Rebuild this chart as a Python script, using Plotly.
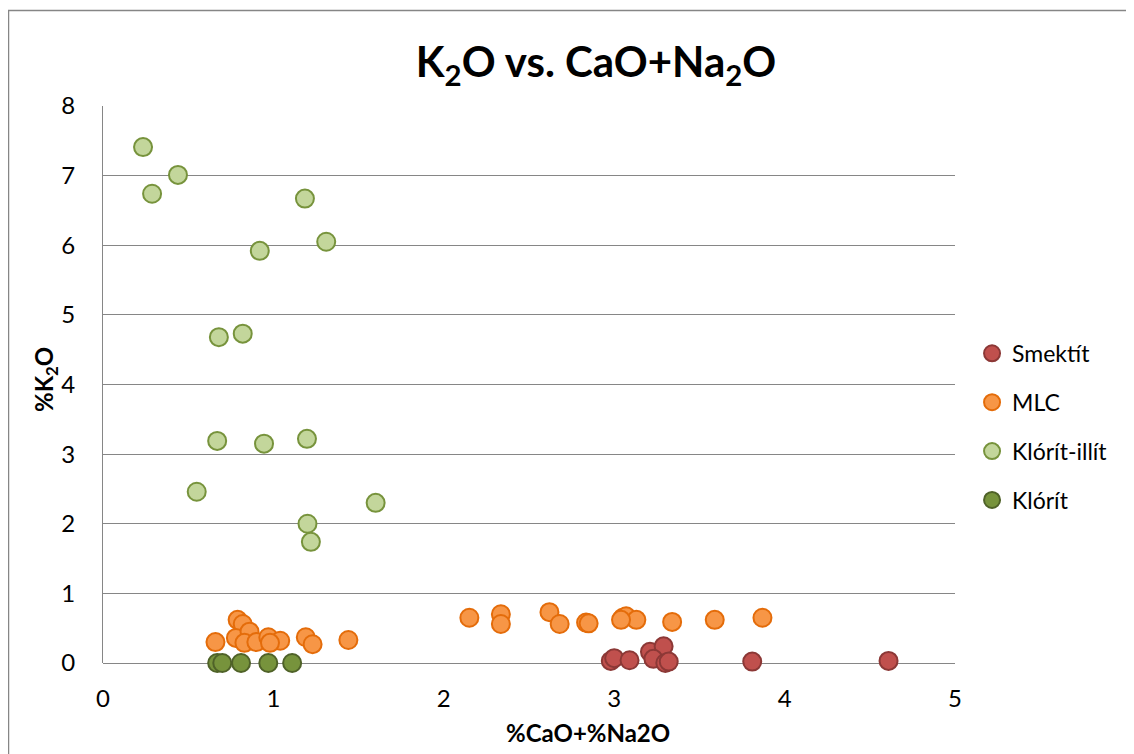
import plotly.graph_objects as go

# Smektít
smek_x = [2.98, 3.00, 3.09, 3.21, 3.29, 3.23, 3.30, 3.32, 3.81, 4.61]
smek_y = [0.03, 0.07, 0.04, 0.16, 0.24, 0.06, 0.00, 0.02, 0.02, 0.03]

# MLC
mlc_x = [0.66, 0.79, 0.82, 0.78, 0.86, 0.83, 0.90, 0.97, 1.04, 0.98, 1.19, 1.23, 1.44,
         2.15, 2.335, 2.335, 2.62, 2.68, 2.835, 2.85, 3.05, 3.07, 3.13, 3.04, 3.34, 3.59, 3.87]
mlc_y = [0.30, 0.62, 0.56, 0.36, 0.45, 0.29, 0.30, 0.37, 0.32, 0.29, 0.37, 0.27, 0.33,
         0.65, 0.70, 0.56, 0.73, 0.56, 0.58, 0.57, 0.65, 0.67, 0.62, 0.62, 0.59, 0.62, 0.65]

# Klórít-illít
ki_x = [0.235, 0.288, 0.44, 1.185, 1.31, 0.92, 0.68, 0.82, 0.67, 0.945, 1.197, 0.55, 1.60, 1.20, 1.22]
ki_y = [7.41, 6.74, 7.01, 6.67, 6.05, 5.92, 4.68, 4.73, 3.19, 3.15, 3.22, 2.46, 2.30, 2.00, 1.74]

# Klórít
kl_x = [0.67, 0.70, 0.81, 0.97, 1.11]
kl_y = [0.0, 0.0, 0.0, 0.0, 0.0]

series = [
    ("Smektít", smek_x, smek_y, "#C0504D", "#8C3836"),
    ("MLC", mlc_x, mlc_y, "#F79646", "#E46C0A"),
    ("Klórít-illít", ki_x, ki_y, "#C3D69B", "#77933C"),
    ("Klórít", kl_x, kl_y, "#77933C", "#4F6228"),
]

FONT = "Lato, Noto Sans, sans-serif"
W, H = 1126, 746
L, R, T, B = 95, 179, 98, 91
PW, PH = W - L - R, H - T - B

fig = go.Figure()
for i, (name, xs, ys, fill, edge) in enumerate(series):
    fig.add_trace(go.Scatter(
        x=xs, y=ys, mode="markers", name=name, legendgroup=str(i),
        cliponaxis=False,
        marker=dict(size=18, color=fill, line=dict(color=edge, width=2)),
    ))

fig.update_layout(
    width=W, height=H,
    margin=dict(l=L, r=R, t=T, b=B, autoexpand=False),
    paper_bgcolor="white", plot_bgcolor="white",
    font=dict(family=FONT, color="#000000", size=22),
    title=dict(text="<b>K<sub>2</sub>O vs. CaO+Na<sub>2</sub>O</b>",
               x=588 / W, xanchor="center", y=1 - 54 / H, yanchor="middle",
               font=dict(size=42, family=FONT)),
    xaxis=dict(range=[0, 5], dtick=1, showgrid=False, zeroline=False,
               showline=False, ticks="outside", ticklen=14, tickcolor="rgba(0,0,0,0)",
               tickfont=dict(size=24), automargin=False),
    yaxis=dict(range=[0, 8], dtick=1, showgrid=True, gridcolor="#868686", gridwidth=1,
               zeroline=True, zerolinecolor="#868686", zerolinewidth=1,
               showline=True, linecolor="#868686", linewidth=1,
               ticks="outside", ticklen=22, tickcolor="rgba(0,0,0,0)",
               tickfont=dict(size=24), automargin=False),
    legend=dict(x=1.02, xanchor="left", y=0.424, yanchor="middle",
                font=dict(size=23), tracegroupgap=16, itemsizing="trace", itemwidth=30,
                bgcolor="rgba(0,0,0,0)"),
    showlegend=True,
    annotations=[
        dict(text="<b>%CaO+%Na2O</b>", xref="paper", yref="paper",
             x=(580 - L) / PW, y=(T + PH - 724) / PH, xanchor="center", yanchor="middle",
             showarrow=False, font=dict(size=24, family=FONT)),
        dict(text="<b>%K<sub>2</sub>O</b>", xref="paper", yref="paper",
             x=(37 - L) / PW, y=(T + PH - 372) / PH, xanchor="center", yanchor="middle",
             textangle=-90, showarrow=False, font=dict(size=24, family=FONT)),
    ],
)

fig.add_shape(type="rect", xref="paper", yref="paper",
              x0=(0.5 - L) / PW, x1=(W + 60 - L) / PW,
              y0=(T + PH - (H + 60)) / PH, y1=(T + PH - 2.5) / PH,
              line=dict(color="#868686", width=1.5), fillcolor="rgba(0,0,0,0)", layer="below")

fig.write_html("out.html")
